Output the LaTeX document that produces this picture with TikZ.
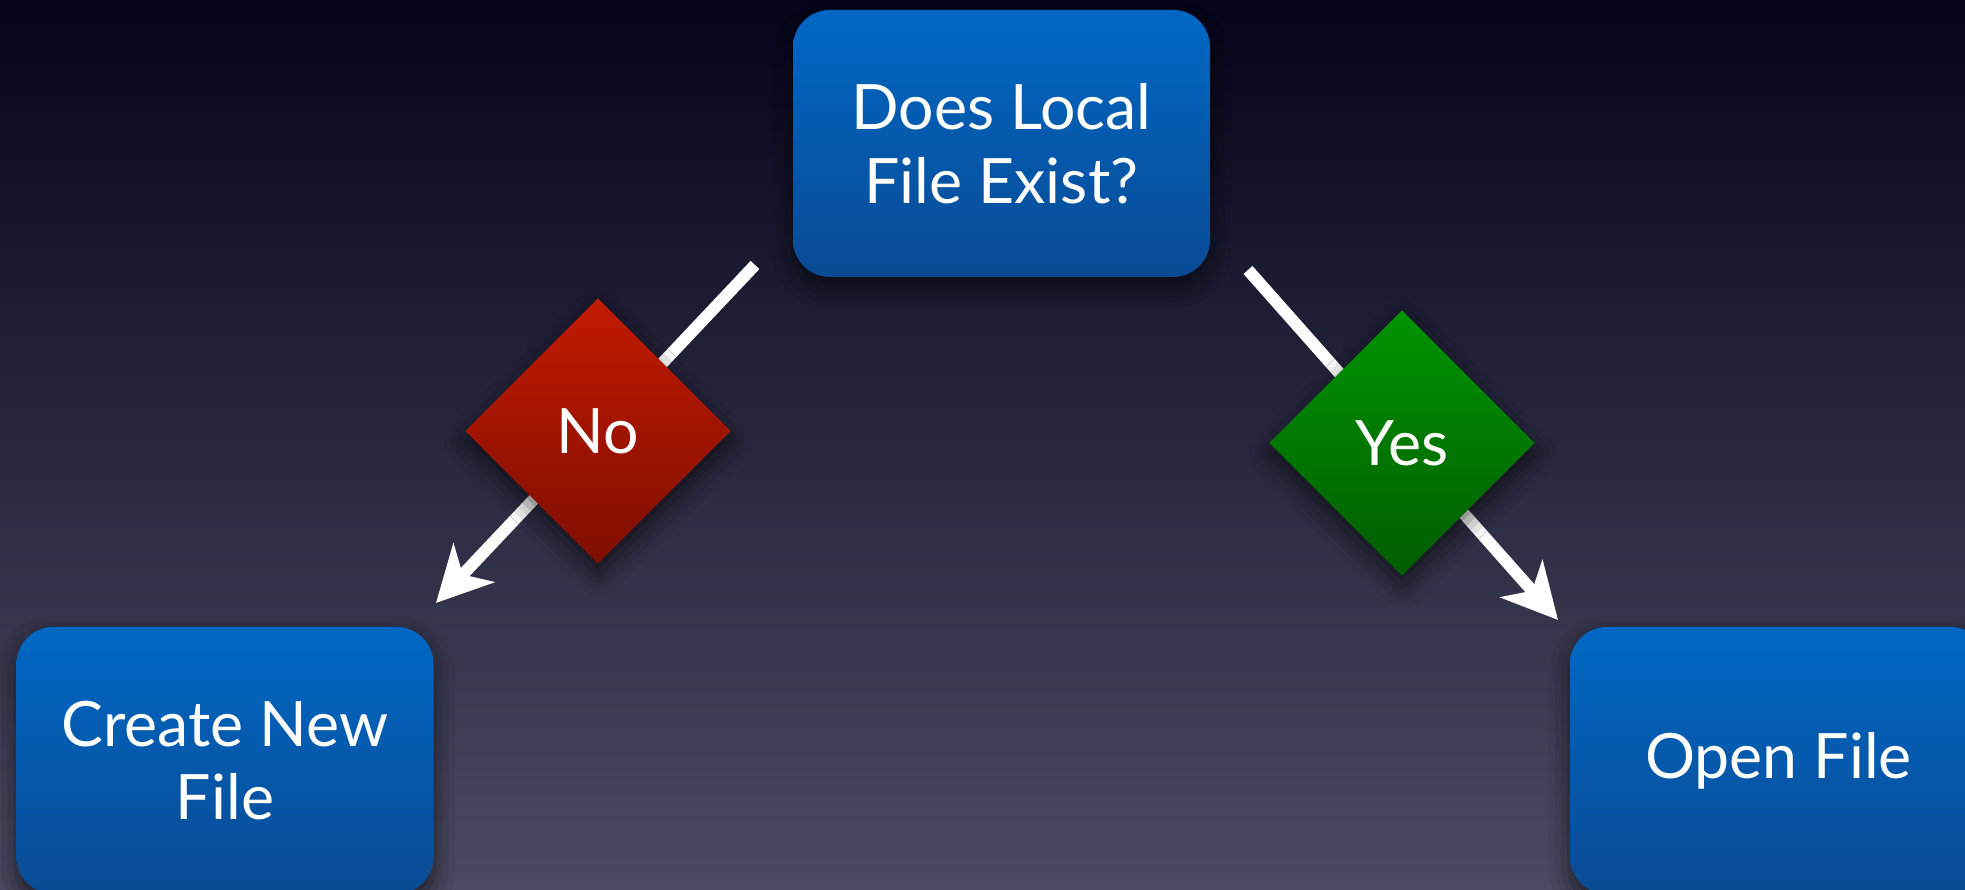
\documentclass[tikz,border=0pt]{standalone}
\usepackage{fontspec}
\setmainfont{Lato}
\usepackage{tikz}
\usetikzlibrary{shapes.geometric,arrows.meta,shadows.blur}

\definecolor{bgtop}{HTML}{04041A}
\definecolor{bgbot}{HTML}{4B4A62}
\definecolor{boxtop}{HTML}{0068C4}
\definecolor{boxbot}{HTML}{0A4A94}
\definecolor{redtop}{HTML}{C21A00}
\definecolor{redbot}{HTML}{7E0E00}
\definecolor{greentop}{HTML}{009400}
\definecolor{greenbot}{HTML}{005C00}

\begin{document}
\begin{tikzpicture}[
  box/.style={rectangle, rounded corners=10.5pt, minimum width=4.17cm,
    minimum height=2.67cm, top color=boxtop, bottom color=boxbot,
    text=white, align=center, font=\fontsize{17.8}{21}\selectfont,
    blur shadow={shadow xshift=0pt, shadow yshift=-3pt, shadow blur radius=6pt, shadow opacity=60}},
  choice/.style={diamond, minimum width=2.66cm, minimum height=2.66cm,
    inner sep=0pt, text=white, font=\fontsize{17.8}{21}\selectfont,
    blur shadow={shadow xshift=0pt, shadow yshift=-3pt, shadow blur radius=6pt, shadow opacity=60}},
  flow/.style={white, line width=3.4pt,
    -{Stealth[length=5.5mm, width=5.6mm, inset=1.6mm]}}
]
  \useasboundingbox (0,0) rectangle (19.65,8.9);
  \shade [top color=bgtop, bottom color=bgbot] (0,0) rectangle (19.65,8.9);

  \coordinate (Qn) at (7.55,6.25);
  \coordinate (Cn) at (4.36,2.87);
  \coordinate (Qy) at (12.48,6.20);
  \coordinate (Oy) at (15.58,2.70);

  \draw [flow] (Qn) -- (Cn);
  \draw [flow] (Qy) -- (Oy);

  \node [box] (Q) at (10.015,7.465) {Does Local\\File Exist?};
  \node [box] (C) at (2.25,1.295) {Create New\\File};
  \node [box] (O) at (17.785,1.295) {Open File};

  \node [choice, top color=redtop, bottom color=redbot] (N) at (5.98,4.59) {No};
  \node [choice, top color=greentop, bottom color=greenbot] (Y) at (14.02,4.47) {Yes};
\end{tikzpicture}
\end{document}
